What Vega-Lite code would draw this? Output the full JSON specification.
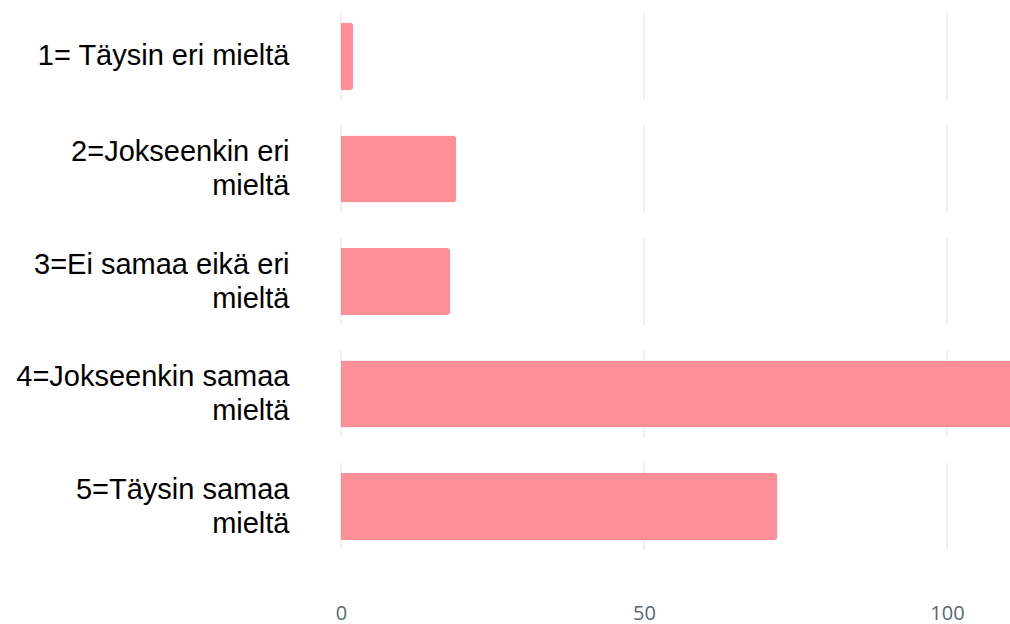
{
  "$schema": "https://vega.github.io/schema/vega-lite/v6.json",
  "autosize": "none",
  "width": 669,
  "height": 563,
  "padding": {"left": 341, "top": 0, "right": 0, "bottom": 61},
  "background": "white",
  "datasets": {
    "answers": [
      {"vastaus": "1= Täysin eri mieltä", "n": 2},
      {"vastaus": "2=Jokseenkin eri mieltä", "n": 19},
      {"vastaus": "3=Ei samaa eikä eri mieltä", "n": 18},
      {"vastaus": "4=Jokseenkin samaa mieltä", "n": 116},
      {"vastaus": "5=Täysin samaa mieltä", "n": 72}
    ],
    "grid": [
      {"vastaus": "1= Täysin eri mieltä", "t": 0},
      {"vastaus": "1= Täysin eri mieltä", "t": 50},
      {"vastaus": "1= Täysin eri mieltä", "t": 100},
      {"vastaus": "2=Jokseenkin eri mieltä", "t": 0},
      {"vastaus": "2=Jokseenkin eri mieltä", "t": 50},
      {"vastaus": "2=Jokseenkin eri mieltä", "t": 100},
      {"vastaus": "3=Ei samaa eikä eri mieltä", "t": 0},
      {"vastaus": "3=Ei samaa eikä eri mieltä", "t": 50},
      {"vastaus": "3=Ei samaa eikä eri mieltä", "t": 100},
      {"vastaus": "4=Jokseenkin samaa mieltä", "t": 0},
      {"vastaus": "4=Jokseenkin samaa mieltä", "t": 50},
      {"vastaus": "4=Jokseenkin samaa mieltä", "t": 100},
      {"vastaus": "5=Täysin samaa mieltä", "t": 0},
      {"vastaus": "5=Täysin samaa mieltä", "t": 50},
      {"vastaus": "5=Täysin samaa mieltä", "t": 100}
    ]
  },
  "encoding": {
    "y": {
      "field": "vastaus",
      "type": "nominal",
      "sort": null,
      "scale": {"paddingInner": 0.405, "paddingOuter": 0.204},
      "axis": {
        "title": null,
        "domain": false,
        "ticks": false,
        "grid": false,
        "labelPadding": 52,
        "labelFont": "Liberation Sans",
        "labelFontSize": 29,
        "labelColor": "#000000",
        "labelLineHeight": 34,
        "labelLimit": 400,
        "labelOffset": {"condition": {"test": "datum.value == '1= Täysin eri mieltä'", "value": 0}, "value": -17},
        "labelExpr": "datum.value == '1= Täysin eri mieltä' ? datum.value : [slice(datum.value, 0, lastindexof(datum.value, ' ')), slice(datum.value, lastindexof(datum.value, ' ') + 1)]"
      }
    }
  },
  "layer": [
    {
      "data": {"name": "grid"},
      "mark": {"type": "tick", "color": "#E4E9ED", "thickness": 1.2, "size": 87, "opacity": 1},
      "encoding": {
        "x": {"field": "t", "type": "quantitative"}
      }
    },
    {
      "data": {"name": "answers"},
      "mark": {"type": "bar", "color": "#FF8F96", "cornerRadiusEnd": 3},
      "encoding": {
        "x": {
          "field": "n",
          "type": "quantitative",
          "scale": {"domain": [0, 110.4], "nice": false, "zero": true},
          "axis": {
            "title": null,
            "values": [0, 50, 100],
            "domain": false,
            "ticks": false,
            "grid": false,
            "labelFont": "Open Sans",
            "labelFontSize": 20,
            "labelColor": "#5B6770",
            "labelPadding": 40,
            "labelFlush": false
          }
        }
      }
    }
  ],
  "config": {"view": {"stroke": null}}
}
